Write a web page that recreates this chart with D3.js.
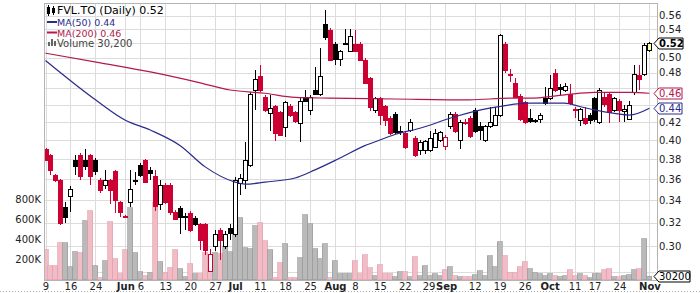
<!DOCTYPE html>
<html>
<head>
<meta charset="utf-8">
<script src="https://cdn.jsdelivr.net/npm/d3@7"></script>
<style>
  body { margin: 0; background: #fff; }
  #container { width: 700px; height: 293px; }
  svg { display: block; font-family: "DejaVu Sans", Verdana, sans-serif; }
</style>
</head>
<body>
<div id="container"></div>
<script>
// trading calendar (TSX), May 9 - Nov 1
var firstDay = "2016-05-09", lastDay = "2016-11-01";
var holidays = ["2016-05-23", "2016-07-01", "2016-08-01", "2016-09-05", "2016-10-10"];

var opens = [.390,.384,.364,.359,.334,.344,.379,.384,.379,.384,.379,.359,.354,.359,.368,.338,.326,.338,.358,.374,
  .379,.369,.363,.336,.354,.354,.329,.333,.325,.328,.324,.319,.319,.281,.300,.314,.300,.315,.310,.356,
  .359,.374,.458,.476,.449,.430,.439,.431,.414,.439,.431,.419,.450,.434,.458,.453,.547,.539,.519,.498,
  .519,.509,.519,.519,.497,.473,.434,.448,.439,.425,.429,.409,.408,.411,.402,.389,.389,.389,.393,.400,
  .394,.415,.429,.400,.420,.425,.434,.416,.400,.415,.417,.428,.519,.478,.467,.451,.443,.425,.421,.424,
  .448,.448,.480,.462,.458,.453,.435,.422,.425,.428,.448,.420,.449,.453,.434,.445,.433,.424,.456,.477,
  .478,.510];
var highs = [.392,.385,.365,.360,.338,.353,.384,.386,.390,.385,.381,.361,.369,.360,.369,.339,.327,.369,.367,.376,
  .380,.372,.369,.359,.356,.356,.331,.335,.328,.330,.326,.320,.320,.298,.314,.315,.313,.319,.362,.365,
  .398,.455,.483,.490,.452,.452,.440,.433,.445,.441,.433,.450,.458,.452,.487,.513,.568,.541,.521,.511,
  .540,.540,.539,.521,.499,.475,.450,.450,.440,.427,.432,.415,.410,.423,.404,.400,.400,.410,.412,.410,
  .405,.431,.431,.422,.423,.427,.436,.420,.417,.438,.437,.533,.522,.485,.473,.453,.445,.435,.423,.430,
  .462,.477,.485,.465,.467,.466,.437,.436,.437,.430,.450,.460,.456,.455,.450,.447,.440,.445,.490,.490,
  .520,.522];
var lows = [.378,.364,.357,.318,.320,.329,.364,.359,.369,.354,.364,.347,.350,.336,.328,.325,.324,.334,.354,.362,
  .356,.359,.330,.331,.336,.327,.322,.310,.314,.312,.317,.297,.293,.280,.296,.289,.298,.305,.308,.345,
  .350,.372,.434,.456,.432,.410,.399,.405,.403,.426,.419,.398,.443,.428,.452,.451,.525,.495,.490,.489,
  .517,.507,.507,.495,.465,.433,.430,.417,.415,.405,.407,.405,.390,.409,.382,.384,.385,.387,.392,.398,
  .389,.412,.408,.390,.417,.402,.408,.400,.398,.413,.415,.426,.480,.468,.449,.421,.418,.419,.419,.419,
  .440,.446,.456,.452,.455,.440,.425,.416,.417,.418,.420,.418,.438,.419,.432,.420,.420,.422,.452,.458,
  .476,.508];
var closes = [.379,.369,.359,.320,.325,.350,.373,.363,.373,.363,.368,.349,.359,.349,.340,.329,.325,.350,.359,.364,
  .357,.366,.335,.354,.338,.329,.323,.325,.326,.314,.319,.305,.297,.294,.310,.305,.310,.311,.359,.361,
  .379,.453,.472,.458,.434,.436,.408,.406,.443,.428,.421,.444,.445,.450,.453,.476,.528,.497,.498,.509,
  .520,.530,.509,.497,.467,.438,.448,.428,.422,.408,.409,.410,.393,.420,.384,.398,.399,.402,.408,.409,
  .403,.429,.410,.420,.419,.404,.410,.411,.415,.420,.428,.531,.484,.477,.450,.423,.420,.421,.422,.428,
  .442,.461,.458,.459,.463,.442,.434,.435,.419,.422,.423,.458,.441,.431,.448,.434,.435,.440,.478,.472,
  .518,.520];
var priorClose = 0.395;
// volume, thousands of shares
var volumes = [300,140,140,370,370,130,280,270,590,690,140,20,190,580,210,60,300,720,270,80,
  40,70,770,180,70,120,300,110,30,160,60,60,270,120,270,260,330,280,450,620,
  320,310,540,570,390,300,20,170,360,20,20,220,650,560,310,210,360,20,190,60,
  60,60,190,60,250,120,40,150,60,60,30,80,80,30,230,40,140,40,60,40,
  100,130,40,30,30,30,50,90,40,240,130,380,240,70,70,130,180,110,70,60,
  40,60,40,30,40,100,40,60,40,20,60,60,100,110,30,30,40,50,100,110,
  410,30.2];

// moving averages, read at a few sessions (index into the trading days)
var ma50At = [0, 10, 16, 21, 27, 32, 38, 40, 44, 50, 54, 59, 64, 67, 70, 75, 82, 89, 97, 104, 107, 110, 114, 117, 121];
var ma50 = [.496,.446,.422,.411,.394,.372,.357,.355,.357,.361,.369,.381,.394,.400,.406,.413,.426,.436,.442,.442,.438,.434,.430,.428,.436];
var ma200At = [0, 11, 21, 31, 37, 44, 50, 57, 70, 85, 93, 97, 104, 110, 117, 121];
var ma200 = [.506,.493,.481,.467,.458,.454,.449,.448,.447,.446,.448,.448,.452,.455,.455,.454];

var priceTicks = [0.28,0.30,0.32,0.34,0.36,0.38,0.40,0.42,0.44,0.46,0.48,0.50,0.52,0.54,0.56];
var coveredTicks = [0.28, 0.44, 0.46, 0.52];   // hidden behind the value tags
var volTicks = [200, 400, 600, 800];
var dateTicks = ["2016-05-09","2016-05-16","2016-05-24","2016-06-01","2016-06-06","2016-06-13","2016-06-20",
  "2016-06-27","2016-07-04","2016-07-11","2016-07-18","2016-07-25","2016-08-02","2016-08-08","2016-08-15",
  "2016-08-22","2016-08-29","2016-09-01","2016-09-12","2016-09-19","2016-09-26","2016-10-03","2016-10-11",
  "2016-10-17","2016-10-24","2016-11-01"];
var dateLabels = ["9","16","24","Jun","6","13","20","27","Jul","11","18","25","Aug","8","15","22","29",
  "Sep","12","19","26","Oct","11","17","24","Nov"];
var months = ["Jun","Jul","Aug","Sep","Oct","Nov"];

var legendTitle = "FVL.TO (Daily) 0.52";
var legendMa50 = "MA(50) 0.44", legendMa200 = "MA(200) 0.46", legendVol = "Volume 30,200";

var parse = d3.timeParse("%Y-%m-%d"), fmt = d3.timeFormat("%Y-%m-%d");
var dates = d3.timeDays(parse(firstDay), d3.timeDay.offset(parse(lastDay), 1))
  .filter(function(d) { return d.getDay() > 0 && d.getDay() < 6 && holidays.indexOf(fmt(d)) < 0; })
  .map(fmt);

var navy = "#2b2b8c", crimson = "#b3194d", red = "#cc0033";
var plot = {left: 44, right: 657, top: 3, bottom: 280};

var svg = d3.select("#container").append("svg")
    .attr("width", 700)
    .attr("height", 293);

var x = d3.scalePoint().domain(dates).range([45.5, 649.4]);
var y = d3.scaleLog().domain([0.2739, 0.5796]).range([plot.bottom, plot.top]);
var v = d3.scaleLinear().domain([0, 1000]).range([279.5, 179.5]);

function px(d) { return Math.round(x(d)) + 0.5; }
function py(p) { return Math.round(y(p)) + 0.5; }

svg.append("clipPath").attr("id", "clip")
  .append("rect")
    .attr("x", plot.left).attr("y", plot.top)
    .attr("width", plot.right - plot.left).attr("height", plot.bottom - plot.top);

// grid
var grid = svg.append("g").attr("stroke", "#dcdcdc").attr("shape-rendering", "crispEdges");
grid.selectAll(".hg").data(priceTicks).enter().append("line")
    .attr("x1", plot.left).attr("x2", plot.right)
    .attr("y1", py).attr("y2", py);
grid.selectAll(".vg").data(dateTicks).enter().append("line")
    .attr("x1", px).attr("x2", px)
    .attr("y1", plot.top).attr("y2", plot.bottom);

var g = svg.append("g").attr("clip-path", "url(#clip)");

function prevClose(i) { return i === 0 ? priorClose : closes[i - 1]; }

// volume
g.append("g").attr("shape-rendering", "crispEdges")
  .selectAll("rect").data(dates).enter().append("rect")
    .attr("x", function(d) { return x(d) - 2.5; })
    .attr("width", 5)
    .attr("y", function(d, i) { return v(volumes[i]); })
    .attr("height", function(d, i) { return v(0) - v(volumes[i]); })
    .attr("fill", function(d, i) { return closes[i] < prevClose(i) ? "#f2bcc6" : "#b9b9b9"; })
    .attr("stroke", function(d, i) { return closes[i] < prevClose(i) ? "#e3a2b0" : "#9d9d9d"; })
    .attr("stroke-width", 0.7);

// candles
var candles = g.append("g").attr("shape-rendering", "crispEdges")
  .selectAll("g").data(dates).enter().append("g");

function colorOf(i) { return closes[i] < prevClose(i) ? red : "#000"; }

candles.append("line")
    .attr("x1", px).attr("x2", px)
    .attr("y1", function(d, i) { return y(highs[i]); })
    .attr("y2", function(d, i) { return y(lows[i]); })
    .attr("stroke", function(d, i) { return colorOf(i); });

candles.append("rect")
    .attr("x", function(d) { return px(d) - 2; })
    .attr("width", 4)
    .attr("y", function(d, i) { return py(Math.max(opens[i], closes[i])); })
    .attr("height", function(d, i) {
      return Math.max(1, py(Math.min(opens[i], closes[i])) - py(Math.max(opens[i], closes[i])));
    })
    .attr("fill", function(d, i) {
      if (i === dates.length - 1) return "#ffff99";
      return closes[i] >= opens[i] ? "#fff" : colorOf(i);
    })
    .attr("stroke", function(d, i) { return colorOf(i); });

// moving averages
var line = d3.line().curve(d3.curveMonotoneX);
g.append("path")
    .attr("d", line(ma200At.map(function(k, i) { return [x(dates[k]), y(ma200[i])]; })))
    .attr("fill", "none").attr("stroke", crimson).attr("stroke-width", 1.2);
g.append("path")
    .attr("d", line(ma50At.map(function(k, i) { return [x(dates[k]), y(ma50[i])]; })))
    .attr("fill", "none").attr("stroke", navy).attr("stroke-width", 1.2);

// frame
svg.append("rect")
    .attr("x", plot.left + 0.5).attr("y", plot.top + 0.5)
    .attr("width", plot.right - plot.left).attr("height", plot.bottom - plot.top)
    .attr("fill", "none").attr("stroke", "#b4b4b4");
svg.append("line")
    .attr("x1", 0).attr("x2", 700).attr("y1", 291.5).attr("y2", 291.5)
    .attr("stroke", "#aaa").attr("stroke-dasharray", "1,2");

// axes
function styleAxis(sel) {
  sel.attr("font-family", null).attr("font-size", 10);
  sel.select(".domain").remove();
  sel.selectAll("text").attr("fill", "#222");
}

var dateText = svg.append("g")
    .attr("transform", "translate(0," + plot.bottom + ")")
    .call(d3.axisBottom(x).tickValues(dateTicks).tickSize(0)
      .tickFormat(function(d, i) { return dateLabels[i]; }))
    .call(styleAxis)
  .selectAll("text")
    .attr("y", 10).attr("dy", null)
    .attr("font-weight", function(d, i) { return months.indexOf(dateLabels[i]) >= 0 ? "bold" : null; });

// labels that run into each other ("29Sep") are pushed apart a little
var nodes = dateText.nodes();
for (var k = 1; k < nodes.length; k++) {
  var a = nodes[k - 1].getBBox(), b = nodes[k].getBBox();
  var ta = d3.select(nodes[k - 1].parentNode).attr("transform");
  var tb = d3.select(nodes[k].parentNode).attr("transform");
  var xa = +/translate\(([-\d.]+)/.exec(ta)[1], xb = +/translate\(([-\d.]+)/.exec(tb)[1];
  var gap = (xb + b.x) - (xa + a.x + a.width);
  if (gap < 0.5) {
    var shift = (0.5 - gap) / 2;
    d3.select(nodes[k - 1]).attr("dx", -shift);
    d3.select(nodes[k]).attr("dx", shift);
  }
}

var priceAxis = svg.append("g")
    .attr("transform", "translate(" + plot.right + ",0)")
    .call(d3.axisRight(y).tickValues(priceTicks).tickSize(0).tickPadding(2).tickFormat(d3.format(".2f")))
    .call(styleAxis);
priceAxis.selectAll(".tick")
    .filter(function(d) { return coveredTicks.indexOf(d) >= 0; })
    .remove();

svg.append("g")
    .attr("transform", "translate(" + plot.left + ",0)")
    .call(d3.axisLeft(v).tickValues(volTicks).tickSize(0).tickPadding(3)
      .tickFormat(function(d) { return d + "K"; }))
    .call(styleAxis);

// value tags on the price axis
function tag(yc, txt, col, w, bold) {
  var x0 = 654, h = 5.5;
  yc = Math.round(yc) + 0.5;
  var t = svg.append("g");
  t.append("path")
      .attr("d", "M" + x0 + "," + yc + "L" + (x0 + 5) + "," + (yc - h) + "H" + (x0 + w) +
        "V" + (yc + h) + "H" + (x0 + 5) + "Z")
      .attr("fill", "#fff").attr("stroke", col);
  t.append("text")
      .attr("x", x0 + 5).attr("y", yc).attr("dy", "0.36em")
      .attr("font-size", 10).attr("fill", col)
      .attr("font-weight", bold ? "bold" : null)
      .text(txt);
}
tag(y(ma200[ma200.length - 1]), "0.46", crimson, 28, false);
tag(y(ma50[ma50.length - 1]), "0.44", navy, 28, false);
tag(y(closes[closes.length - 1]), "0.52", "#000", 29, true);
tag(v(volumes[volumes.length - 1]), "30200", "#000", 36, false);

// legend
var lg = svg.append("g");
lg.append("rect").attr("x", 47.5).attr("y", 7.5).attr("width", 2).attr("height", 6).attr("fill", "#fff").attr("stroke", "#000");
lg.append("line").attr("x1", 48.5).attr("x2", 48.5).attr("y1", 5).attr("y2", 16).attr("stroke", "#000");
lg.append("rect").attr("x", 52.5).attr("y", 8.5).attr("width", 2).attr("height", 4).attr("fill", "#000").attr("stroke", "#000");
lg.append("line").attr("x1", 53.5).attr("x2", 53.5).attr("y1", 6).attr("y2", 15).attr("stroke", "#000");
lg.append("text").attr("x", 57).attr("y", 14).attr("font-size", 11).attr("fill", "#000").text(legendTitle);

lg.append("line").attr("x1", 47).attr("x2", 57).attr("y1", 22).attr("y2", 22).attr("stroke", navy).attr("stroke-width", 2);
lg.append("text").attr("x", 57).attr("y", 26).attr("font-size", 9.5).attr("fill", navy).text(legendMa50);

lg.append("line").attr("x1", 47).attr("x2", 57).attr("y1", 32.5).attr("y2", 32.5).attr("stroke", crimson).attr("stroke-width", 2);
lg.append("text").attr("x", 57).attr("y", 37).attr("font-size", 9.5).attr("fill", crimson).text(legendMa200);

lg.selectAll(".vb").data([4, 7, 5]).enter().append("rect")
    .attr("x", function(d, i) { return 48 + i * 3; }).attr("width", 2)
    .attr("y", function(d) { return 46 - d; }).attr("height", function(d) { return d; })
    .attr("fill", "#666");
lg.append("text").attr("x", 57).attr("y", 47).attr("font-size", 10).attr("fill", "#444").text(legendVol);
</script>
</body>
</html>
